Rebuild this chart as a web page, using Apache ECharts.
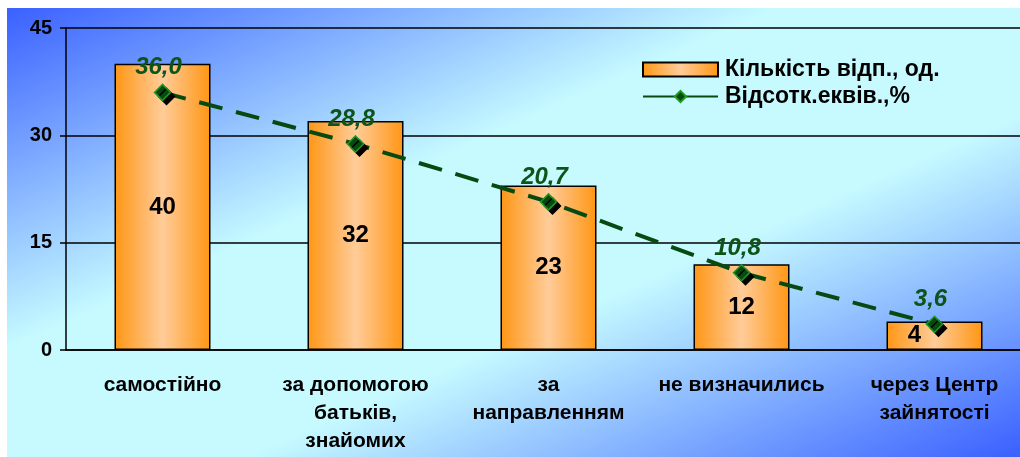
<!DOCTYPE html>
<html>
<head>
<meta charset="utf-8">
<script src="https://cdn.jsdelivr.net/npm/echarts@6/dist/echarts.min.js"></script>
<style>
  html, body { margin: 0; padding: 0; background: #fff; overflow: hidden; }
  /* полотно трохи ширше за вікно: права частина осі обрізана, як в оригіналі */
  #chart { width: 1031px; height: 457px; }
</style>
</head>
<body>
<div id="chart"></div>
<script>
// дані діаграми
var categories = [
  'самостійно',
  'за допомогою\nбатьків,\nзнайомих',
  'за\nнаправленням',
  'не визначились',
  'через Центр\nзайнятості'
]
var countName = 'Кількість відп., од.'
var percentName = 'Відсотк.еквів.,%'
var countValues = [40, 32, 23, 12, 4]
var percentValues = [36.0, 28.8, 20.7, 10.8, 3.6]
var yMin = 0
var yMax = 45
var yStep = 15

var FONT = 'Arial, "Liberation Sans", sans-serif'
var chart = echarts.init(document.getElementById('chart'))

// останній стовпчик: підпис зсунуто вліво, щоб не перекривав маркер
var barData = countValues.map(function (v, i) {
  if (i === countValues.length - 1) return { value: v, label: { offset: [-20, 0] } }
  return v
})

chart.setOption({
  animation: false,
  graphic: [{
    type: 'rect', z: -10, silent: true,
    shape: { x: 7, y: 8, width: 1013, height: 449 },
    style: {
      fill: {
        type: 'linear', x: 0.336, y: -0.336, x2: 0.663, y2: 1.334,
        colorStops: [
          { offset: 0, color: '#3a60ff' },
          { offset: 0.38, color: '#c6faff' },
          { offset: 0.62, color: '#c6faff' },
          { offset: 1, color: '#3a60ff' }
        ]
      }
    }
  }],
  legend: {
    orient: 'vertical',
    left: 637, top: 53,
    itemWidth: 75, itemHeight: 14, itemGap: 4,
    textStyle: { fontFamily: FONT, fontSize: 23, fontWeight: 'bold', color: '#000', padding: [0, 0, 0, 2] },
    lineStyle: { type: 'solid' },
    data: [{ name: countName, icon: 'rect' }, percentName]
  },
  grid: { left: 66, top: 28, right: 0, bottom: 107, containLabel: false },
  xAxis: {
    type: 'category',
    data: categories,
    axisLine: { lineStyle: { color: '#000', width: 1.5 } },
    axisTick: { length: 8, lineStyle: { color: '#000', width: 1.5 } },
    axisLabel: {
      interval: 0, margin: 21,
      fontFamily: FONT, fontSize: 21, fontWeight: 'bold', color: '#000', lineHeight: 28
    }
  },
  yAxis: {
    type: 'value',
    min: yMin, max: yMax, interval: yStep,
    axisLine: { show: true, lineStyle: { color: '#000', width: 1.5 } },
    axisTick: { show: true, length: 6, lineStyle: { color: '#000', width: 1.5 } },
    axisLabel: { margin: 14, fontFamily: FONT, fontSize: 20, fontWeight: 'bold', color: '#000' },
    splitLine: { lineStyle: { color: '#000', width: 1.5 } }
  },
  series: [{
    name: countName,
    type: 'bar',
    data: barData,
    barWidth: 96,
    itemStyle: {
      color: new echarts.graphic.LinearGradient(0, 0, 1, 0, [
        { offset: 0, color: '#ff9614' },
        { offset: 0.5, color: '#ffcc99' },
        { offset: 1, color: '#ff9614' }
      ]),
      borderColor: '#000',
      borderWidth: 1.5
    },
    label: {
      show: true, position: 'inside',
      fontFamily: FONT, fontSize: 24, fontWeight: 'bold', color: '#000'
    }
  }, {
    name: percentName,
    type: 'line',
    data: percentValues,
    z: 5,
    symbol: 'diamond',
    symbolSize: 16,
    lineStyle: { color: '#064a12', width: 4, type: [24, 14] },
    itemStyle: {
      color: '#064a12', borderColor: '#1e9a1e', borderWidth: 1.5,
      shadowColor: '#000', shadowOffsetX: 4, shadowOffsetY: 4, shadowBlur: 0
    },
    label: {
      show: true, position: 'top', distance: 4, offset: [-4, 0],
      fontFamily: FONT, fontSize: 24, fontWeight: 'bold', fontStyle: 'italic', color: '#0d5418',
      formatter: function (p) { return p.value.toFixed(1).replace('.', ',') }
    }
  }]
})
</script>
</body>
</html>
